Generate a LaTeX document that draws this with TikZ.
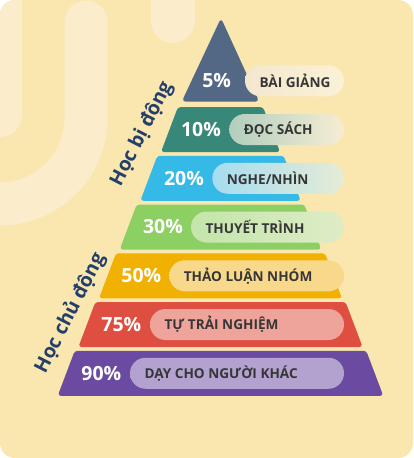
\documentclass[tikz,border=0pt]{standalone}
\usepackage{fontspec}
\setmainfont{Open Sans}
\usetikzlibrary{positioning}

\definecolor{bgyel}{HTML}{FAE6AF}
\definecolor{decolight}{HTML}{FBEDCB}
\definecolor{navy}{HTML}{24406A}
\definecolor{txtgray}{HTML}{363636}
\definecolor{lyA}{HTML}{536884}
\definecolor{lyB}{HTML}{378878}
\definecolor{lyC}{HTML}{35B9E6}
\definecolor{lyD}{HTML}{8CD064}
\definecolor{lyE}{HTML}{F1B102}
\definecolor{lyF}{HTML}{DE4F41}
\definecolor{lyG}{HTML}{6B4BA1}
\definecolor{pilAl}{HTML}{F3E8CF}
\definecolor{pilAr}{HTML}{FBF1D6}
\definecolor{pilBl}{HTML}{B2CEBE}
\definecolor{pilBr}{HTML}{F6EDD3}
\definecolor{pilCl}{HTML}{A6DCF1}
\definecolor{pilCr}{HTML}{E6ECD5}
\definecolor{pilDl}{HTML}{C3E5AA}
\definecolor{pilDr}{HTML}{DFECC6}
\definecolor{pilE}{HTML}{F8D98B}
\definecolor{pilF}{HTML}{EEA49A}
\definecolor{pilG}{HTML}{B3A1D0}

\begin{document}
\begin{tikzpicture}[x=1pt, y=-1pt,
    pct/.style={text=white, font=\bfseries\fontsize{19.5}{21}\selectfont},
    pilltext/.style={anchor=west, text=txtgray, font=\bfseries\fontsize{13.6}{15}\selectfont},
    side/.style={text=navy, font=\bfseries\fontsize{19.5}{22}\selectfont, rotate=63, inner sep=0pt},
    deco/.style={draw=decolight, line cap=round}]

\useasboundingbox (0,0) rectangle (413,458);

% nen the
\fill[white] (0,0) rectangle (413,458);
\fill[bgyel, rounded corners=15pt] (0,0) rectangle (413,458);

% hoa van nen
\begin{scope}
    \clip[rounded corners=15pt] (0,0) rectangle (413,458);
    \draw[deco, line width=44pt] (0,-40) -- (0,115);
    \draw[deco, line width=43pt] (86,22) -- (86,118) arc[start angle=0, end angle=-120, radius=86pt];
    \draw[deco, line width=44pt] (172.5,-40) -- (172.5,21);
\end{scope}

% dinh thap
\fill[lyA, rounded corners=4pt] (221,18) -- (259.3,101.7) -- (181.7,101.7) -- cycle;
\shade[left color=pilAl, right color=pilAr, rounded corners=15.5pt] (245,65.25) rectangle (344,96.25);
\node[pct] (p1) at (216.7,80.75) {5\%};
\node[pilltext] (t1) at (256,80.75) {BÀI GIẢNG};

% cac tang
\foreach \i/\col/\pc/\px/\pl/\la/\lb/\txt in {
    2/lyB/10/201/229.3/pilBl/pilBr/ĐỌC SÁCH,
    3/lyC/20/184/212.3/pilCl/pilCr/{NGHE/NHÌN},
    4/lyD/30/163/191/pilDl/pilDr/THUYẾT TRÌNH,
    5/lyE/50/141.3/169.3/pilE/pilE/THẢO LUẬN NHÓM,
    6/lyF/75/121.3/150/pilF/pilF/TỰ TRẢI NGHIỆM,
    7/lyG/90/101.3/130/pilG/pilG/DẠY CHO NGƯỜI KHÁC}
{
    \pgfmathsetmacro\yt{107+48.75*(\i-2)}
    \pgfmathsetmacro\yb{\yt+45}
    \pgfmathsetmacro\yc{\yt+22.5}
    \pgfmathsetmacro\wb{59.5+20.65*(\i-2)}
    \pgfmathsetmacro\wt{\wb-17}
    \fill[\col, rounded corners=3pt] ({220.5-\wt},\yt) -- ({220.5+\wt},\yt) -- ({220.5+\wb},\yb) -- ({220.5-\wb},\yb) -- cycle;
    \shade[left color=\la, right color=\lb, rounded corners=15.5pt] (\pl,\yc-15.5) rectangle (344,\yc+15.5);
    \node[pct] (p\i) at (\px,\yc) {\pc\%};
    \node[pilltext] (t\i) at (\pl+11,\yc) {\txt};
}

% nhan hai ben
\node[side] (bidong) at (142,134) {Học bị động};
\node[side] (chudong) at (70,313) {Học chủ động};

\end{tikzpicture}
\end{document}
